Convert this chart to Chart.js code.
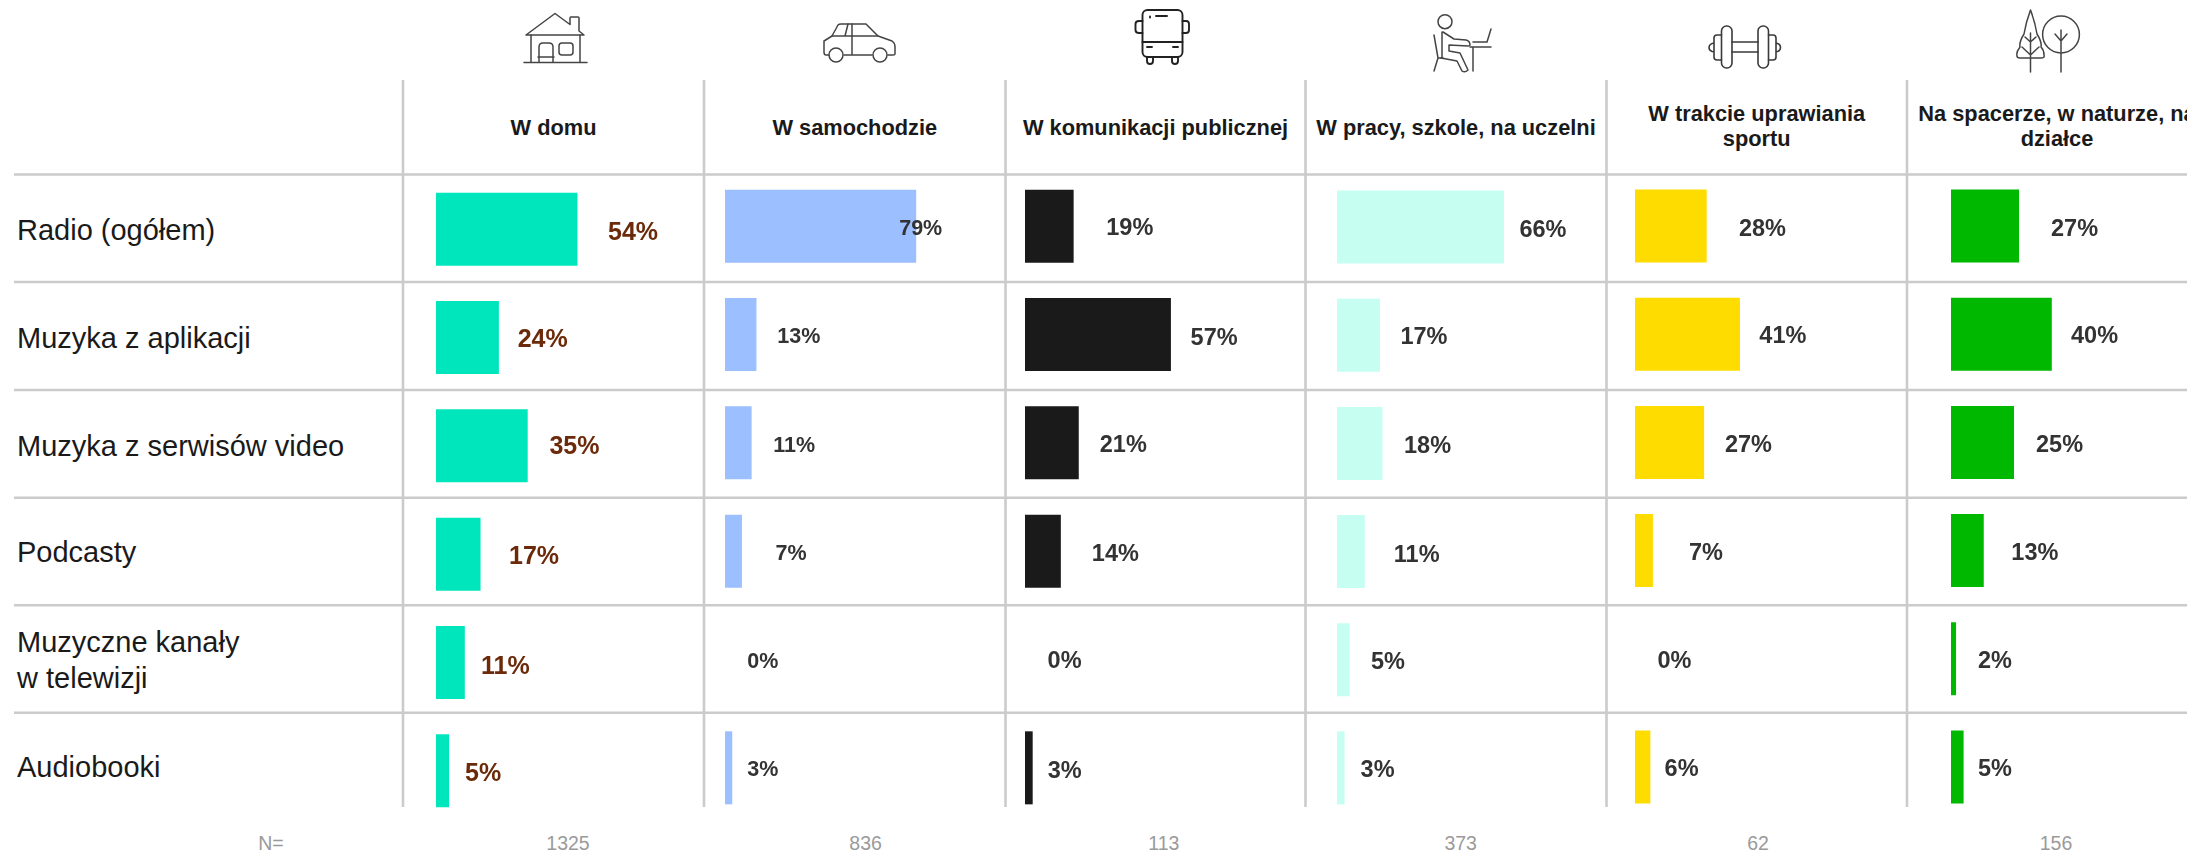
<!DOCTYPE html>
<html lang="pl">
<head>
<meta charset="utf-8">
<title>Słuchanie wg miejsca</title>
<script src="https://cdn.jsdelivr.net/npm/chart.js@4/dist/chart.umd.js"></script>
<style>
  html,body{margin:0;padding:0;background:#fff;width:2187px;height:852px;overflow:hidden;font-family:"Liberation Sans",Arial,sans-serif}
  #stage{position:relative;width:2187px;height:852px;overflow:hidden;background:#fff;filter:blur(0.45px)}
  #frame{position:absolute;left:0;top:0}
  canvas{position:absolute;display:block}
  .head{position:absolute;width:300px;transform:translate(-50%,-50%);text-align:center;font-weight:bold;font-size:21.8px;line-height:25.7px;color:#1a1a1a;white-space:pre}
  .row{position:absolute;left:17px;transform:translateY(-50%);font-size:29px;line-height:36px;color:#1a1a1a;white-space:pre}
  .n{position:absolute;top:843px;transform:translate(-50%,-50%);font-size:19.5px;color:#9a9a9a;white-space:pre}
</style>
</head>
<body>
<div id="stage">
<svg id="frame" width="2187" height="852" viewBox="0 0 2187 852" fill="none">
  <g id="rules" stroke="#cbcbcb" stroke-width="2.6"></g>
  <g stroke="#444" stroke-width="1.5" stroke-linejoin="round" stroke-linecap="round">
    <!-- house -->
    <path d="M526 35 L555 13.5 L570 24.5 V18 Q570 17 571 17 H578 Q579 17 579 18 V31 L584 35 Z"/>
    <path d="M531 35 V62 M580 35 V62 M524 62.5 H587"/>
    <path d="M539 62 V47 Q539 43 543 43 H549 Q553 43 553 47 V62 M538 57 H554"/>
    <rect x="559" y="43" width="14" height="12" rx="3"/>
    <!-- car -->
    <path d="M829 55 H826 Q824 55 824 52 V41 L832 36 L838 25 Q839 24 841 24 H866 L878 36 L892 41 Q895 43 895 47 V54 Q895 55 893 55 H888"/>
    <path d="M844 55 H872 M832 36 H878 M845 36 L848 24 M852 24 V55"/>
    <circle cx="836" cy="55" r="7"/><circle cx="880" cy="55" r="7"/>
    <!-- person -->
    <circle cx="1445" cy="21.7" r="7"/>
    <path d="M1442 32 V57 M1443 32 L1454 39 L1466 40 Q1470 41 1470 45 Q1470 46 1468 46 L1449 45 V51 L1460 53 L1468 70 Q1465 73 1462 71 L1457 61 L1441 58"/>
    <path d="M1434 35 L1438 58 L1434 71 M1438 58 L1443 58"/>
    <path d="M1470 47 H1491 M1473 47 V71 M1473 42 H1487 L1491 29"/>
    <!-- tree conifer -->
    <path d="M2030.5 10 Q2026 22 2024 34 Q2019 42 2020 47 Q2016 52 2017 56 Q2017 58 2020 58 H2041 Q2045 58 2044 55 Q2044 50 2041 47 Q2042 42 2037 34 Q2035 22 2030.5 10 Z"/>
    <path d="M2030.5 33 V72 M2030.5 42 L2025 37 M2030.5 42 L2036 37 M2030.5 55 L2022 47 M2030.5 55 L2039 47"/>
    <circle cx="2061" cy="34.5" r="18.4"/>
    <path d="M2061 30 V72 M2061 41 L2055 34 M2061 41 L2067 34"/>
  </g>
  <g stroke="#222" stroke-width="1.9" stroke-linejoin="round" stroke-linecap="round">
    <!-- bus -->
    <rect x="1142.5" y="10" width="40" height="47" rx="5"/>
    <path d="M1142.5 42 H1182.5 M1142.5 21 H1139 Q1135.5 21 1135.5 24 V30 Q1135.5 33 1139 33 H1142.5 M1182.5 21 H1186 Q1189 21 1189 24 V30 Q1189 33 1186 33 H1182.5"/>
    <path d="M1147 47 H1152 M1173 47 H1178 M1156 16 H1167 M1150 16.5 V17.5"/>
    <path d="M1147 57 V61 Q1147 64 1150 64 Q1153 64 1153 61 V57 M1172 57 V61 Q1172 64 1175 64 Q1178 64 1178 61 V57"/>
  </g>
  <g stroke="#3a3a3a" stroke-width="1.6" stroke-linejoin="round" stroke-linecap="round">
    <!-- dumbbell -->
    <rect x="1721.5" y="26" width="10.5" height="42" rx="5"/>
    <rect x="1758" y="26" width="10.5" height="42" rx="5"/>
    <path d="M1732 42 H1758 M1732 52 H1758 M1721.5 35 H1717 Q1714 35 1714 38 V57 Q1714 60 1717 60 H1721.5 M1768.5 35 H1773 Q1776 35 1776 38 V57 Q1776 60 1773 60 H1768.5 M1714 43 Q1709 44 1709 47.5 Q1709 51 1714 52 M1776 43 Q1780.5 44 1780.5 47.5 Q1780.5 51 1776 52"/>
  </g>
</svg>
</div>
<script>
// ---- data ----
const categories = ["Radio (ogółem)", "Muzyka z aplikacji", "Muzyka z serwisów video", "Podcasty", "Muzyczne kanały\nw telewizji", "Audiobooki"];
const places = ["W domu", "W samochodzie", "W komunikacji publicznej", "W pracy, szkole, na uczelni", "W trakcie uprawiania\nsportu", "Na spacerze, w naturze, na\ndziałce"];
const sampleSizes = ["1325", "836", "113", "373", "62", "156"];
const sampleLabel = "N=";
const domValues = [54, 24, 35, 17, 11, 5];
const samochodValues = [79, 13, 11, 7, 0, 3];
const komunikacjaValues = [19, 57, 21, 14, 0, 3];
const pracaValues = [66, 17, 18, 11, 5, 3];
const sportValues = [28, 41, 27, 7, 0, 6];
const spacerValues = [27, 40, 25, 13, 2, 5];
const seriesValues = [domValues, samochodValues, komunikacjaValues, pracaValues, sportValues, spacerValues];

// ---- layout and style ----
const W = 2187;
const columnLines = [403, 704, 1005.5, 1305.5, 1606.5, 1907];
const rowLines = [174.5, 282, 390, 497.7, 605.3, 712.7];
const headerY = [127.5, 127.5, 127.5, 127.5, 126.5, 126.5];
const rowLabelY = [230, 338, 446, 552, 660, 767];
const sampleX = [568, 865.6, 1163.8, 1460.7, 1758, 2056];
const columnStyles = [
  {color:"#00E6BC", left:436,    pxPerUnit:2.62, firstY:229,   pitch:108.4, text:"#6B2A0A", fontSize:25},
  {color:"#9BBFFF", left:724.6,  pxPerUnit:2.42, firstY:226.5, pitch:108.3, text:"#333333", fontSize:21.5},
  {color:"#1A1A1A", left:1025.4, pxPerUnit:2.56, firstY:226.5, pitch:108.3, text:"#333333", fontSize:23.5},
  {color:"#C6FFF2", left:1336.6, pxPerUnit:2.53, firstY:227.5, pitch:108.1, text:"#333333", fontSize:23.5},
  {color:"#FFDC00", left:1635,   pxPerUnit:2.56, firstY:226,   pitch:108.2, text:"#333333", fontSize:23.5},
  {color:"#00B800", left:1951,   pxPerUnit:2.52, firstY:226,   pitch:108.2, text:"#333333", fontSize:23.5}
];
// distance from bar end to the start of its value label
const labelGaps = [
  [30.5, 18.8, 21.7, 28.5, 16.2, 16],
  [-17, 20.8, 21.6, 33.5, 22.3, 15],
  [32.6, 19.7, 21, 31, 22.6, 15],
  [15.4, 20.4, 21.5, 29, 21.3, 16],
  [32.3, 19.4, 20.8, 36, 22.5, 14.2],
  [32, 19.2, 22, 27.6, 22, 14.4]
];
const labelBaselineShift = 2.5;
const labelNudgeY = [
  [1.5, 0, -1, 0, 2, 1],
  [0, 0, 0.5, 0.5, 0, 0],
  [0, 1.5, 0.5, 0.5, 0, 1],
  [1, 0, 0.5, 1, 0, 0],
  [0.5, 0, 0.5, 0.5, 0, 0.5],
  [0.5, 0, 0.5, 0.5, 0, 0.5]
];

const stage = document.getElementById("stage");
const rules = document.getElementById("rules");
function rule(x1, y1, x2, y2) {
  const l = document.createElementNS("http://www.w3.org/2000/svg", "line");
  l.setAttribute("x1", x1); l.setAttribute("y1", y1); l.setAttribute("x2", x2); l.setAttribute("y2", y2);
  rules.appendChild(l);
}
rowLines.forEach(y => rule(14, y, W, y));
columnLines.forEach(x => rule(x, 80, x, 807));

function addText(cls, text, css) {
  const d = document.createElement("div");
  d.className = cls; d.textContent = text;
  Object.assign(d.style, css);
  stage.appendChild(d);
}
places.forEach((t, i) => {
  const right = i < 5 ? columnLines[i + 1] : columnLines[i] + 300;
  addText("head", t, {left: (columnLines[i] + right) / 2 + "px", top: headerY[i] + "px"});
});
categories.forEach((t, i) => addText("row", t, {top: rowLabelY[i] + "px"}));
addText("n", sampleLabel, {left: "271px"});
sampleSizes.forEach((t, i) => addText("n", t, {left: sampleX[i] + "px"}));

const valueLabels = {
  id: "valueLabels",
  afterDatasetsDraw(chart, _a, opts) {
    const ctx = chart.ctx;
    const meta = chart.getDatasetMeta(0);
    ctx.save();
    ctx.font = "bold " + opts.fontSize + 'px "Liberation Sans", Arial, sans-serif';
    ctx.fillStyle = opts.color;
    ctx.textAlign = "left";
    ctx.textBaseline = "middle";
    meta.data.forEach((bar, i) => {
      ctx.fillText(chart.data.datasets[0].data[i] + "%", bar.x + opts.gaps[i], bar.y + opts.nudge[i] + labelBaselineShift);
    });
    ctx.restore();
  }
};

seriesValues.forEach((values, c) => {
  const s = columnStyles[c];
  const right = c < 5 ? columnLines[c + 1] + 40 : W;
  const width = Math.round(right - s.left);
  const height = Math.round(s.pitch * 6);
  const canvas = document.createElement("canvas");
  canvas.width = width; canvas.height = height;
  canvas.style.left = s.left + "px";
  canvas.style.top = (s.firstY - s.pitch / 2) + "px";
  canvas.style.width = width + "px"; canvas.style.height = height + "px";
  stage.appendChild(canvas);
  new Chart(canvas, {
    type: "bar",
    data: {
      labels: categories,
      datasets: [{ label: places[c], data: values, backgroundColor: s.color, borderWidth: 0,
                   categoryPercentage: 1, barPercentage: 73 / s.pitch }]
    },
    options: {
      indexAxis: "y",
      responsive: false,
      animation: false,
      layout: { padding: 0 },
      scales: {
        x: { display: false, min: 0, max: width / s.pxPerUnit },
        y: { display: false }
      },
      plugins: {
        legend: { display: false },
        tooltip: { enabled: false },
        title: { display: false },
        valueLabels: { color: s.text, fontSize: s.fontSize, gaps: labelGaps[c], nudge: labelNudgeY[c] }
      }
    },
    plugins: [valueLabels]
  });
});
</script>
</body>
</html>
